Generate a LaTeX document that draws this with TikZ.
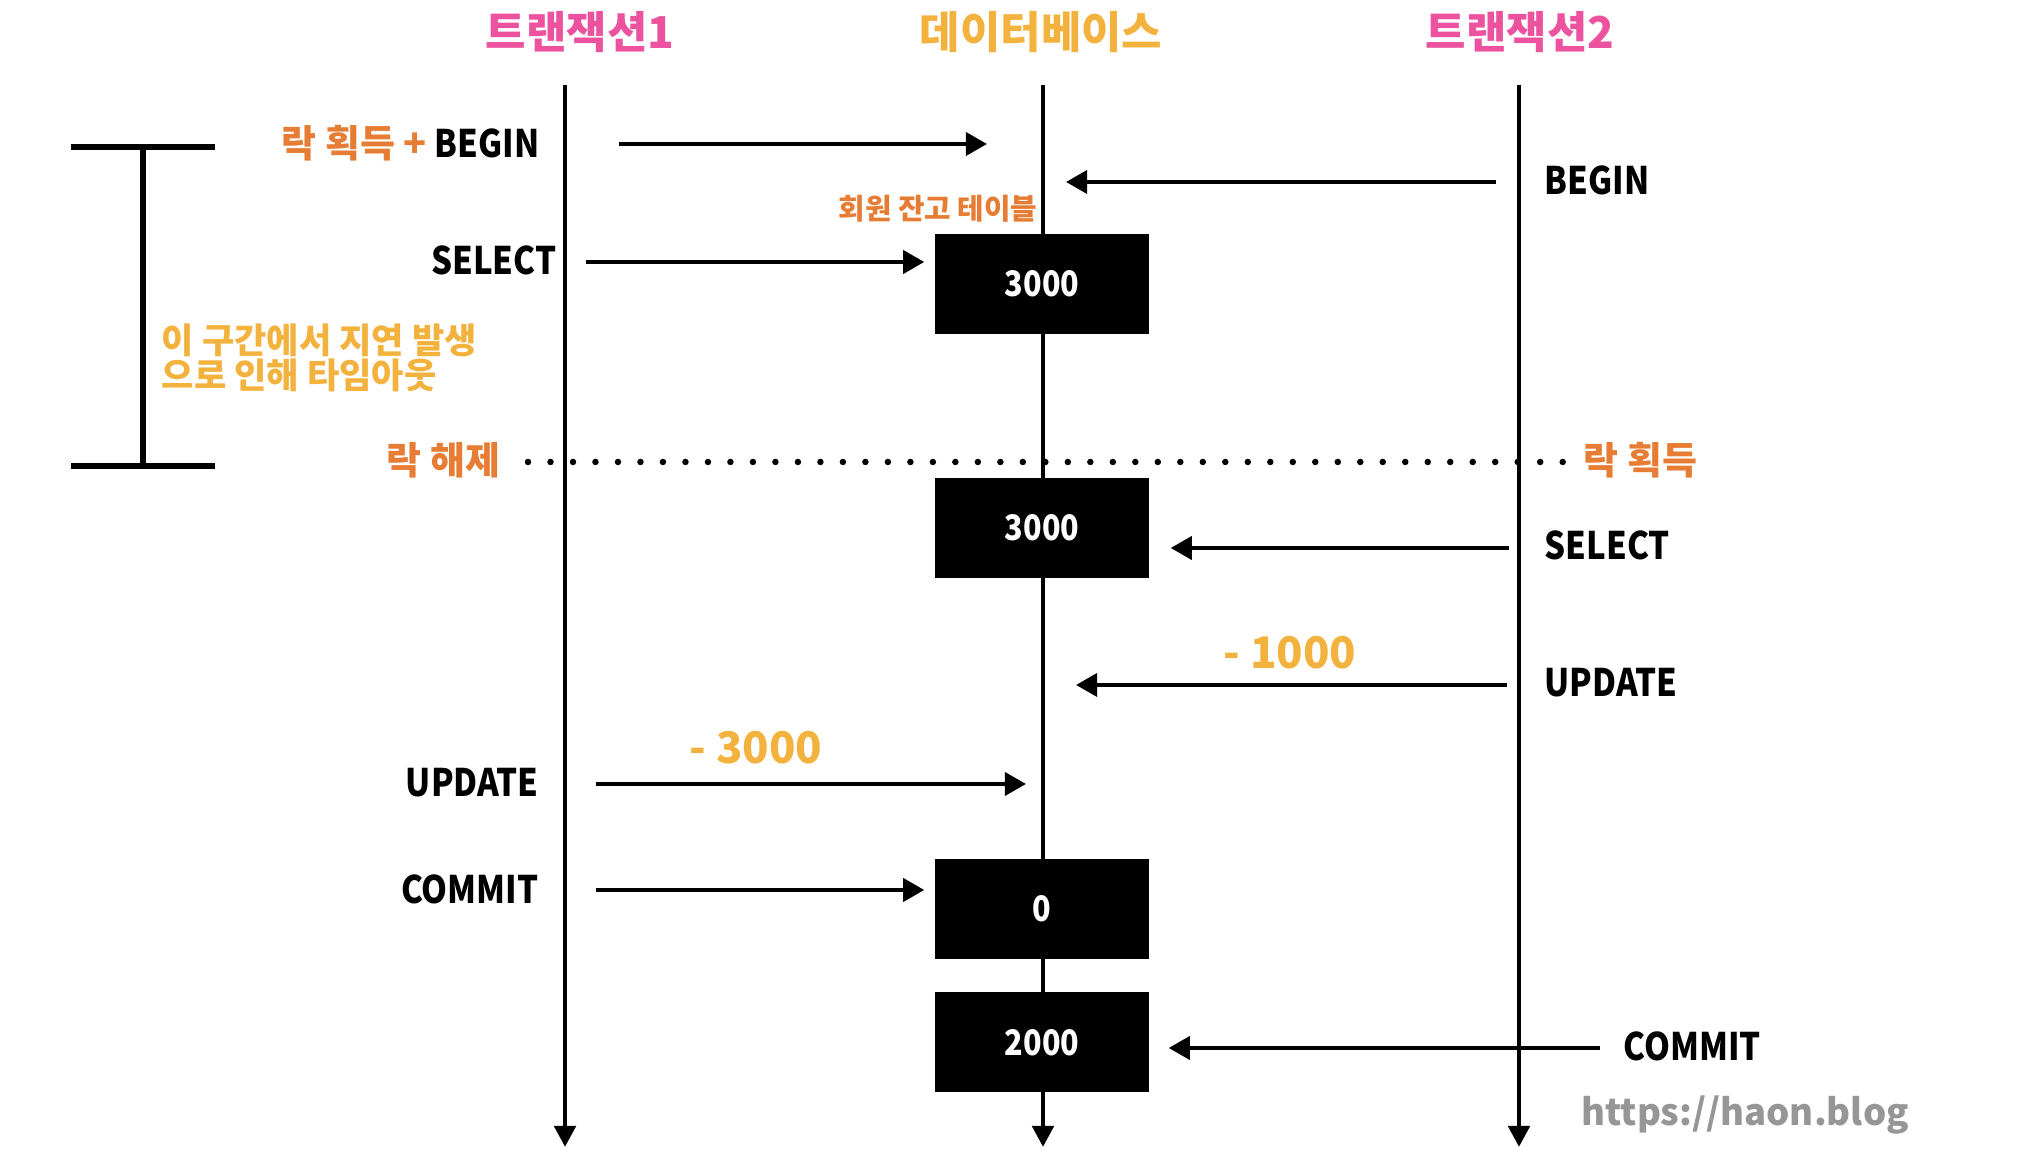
\documentclass[tikz,border=0pt]{standalone}
\usepackage{fontspec}
\setmainfont{Noto Sans CJK KR}[FakeStretch=0.87]
\newfontfamily\kr{Noto Sans CJK KR}
\usetikzlibrary{arrows.meta,positioning,calc}
\definecolor{trpink}{RGB}{236,82,158}
\definecolor{dbyellow}{RGB}{243,178,62}
\definecolor{lockorange}{RGB}{231,125,52}
\definecolor{urlgray}{RGB}{150,150,150}
\tikzset{
  lbl/.style={font=\fontsize{10.8}{12}\selectfont\bfseries, inner sep=0pt},
  ttl/.style={font=\kr\fontsize{12.5}{14}\selectfont\bfseries, inner sep=0pt},
  note/.style={font=\kr\fontsize{12.4}{13}\selectfont\bfseries, inner sep=0pt, text=dbyellow},
  valbox/.style={fill=black, minimum width=2.14cm, minimum height=1cm, inner sep=0pt, text=white, font=\fontsize{10}{11}\selectfont\bfseries},
  msg/.style={line width=1.2pt, -{Triangle[length=6pt,width=6.5pt]}},
  life/.style={line width=1.4pt, -{Triangle[length=6pt,width=6pt]}},
  bar/.style={line width=1.9pt},
}

\begin{document}
\begin{tikzpicture}
			%%%%% START %%%%%
			\useasboundingbox (0,0) rectangle (20.26,11.5);
			
			\node[ttl, text=trpink] (t1) at (5.80,11.18) {트랜잭션1};
			\node[ttl, text=dbyellow] (db) at (10.41,11.18) {데이터베이스};
			\node[ttl, text=trpink] (t2) at (15.20,11.18) {트랜잭션2};
			
			\coordinate (t1top) at (5.65,10.65);
			\coordinate (t1bot) at (5.65,0.03);
			\coordinate (dbtop) at (10.43,10.65);
			\coordinate (dbbot) at (10.43,0.03);
			\coordinate (t2top) at (15.19,10.65);
			\coordinate (t2bot) at (15.19,0.03);
			\draw[life] (t1top) -- (t1bot);
			\draw[life] (dbtop) -- (dbbot);
			\draw[life] (t2top) -- (t2bot);
			
			\node[valbox] (v1) at (10.42,8.66) {3000};
			\node[valbox] (v2) at (10.42,6.22) {3000};
			\node[valbox] (v3) at (10.42,2.41) {0};
			\node[valbox] (v4) at (10.42,1.075) {2000};
			\node[font=\kr\fontsize{8.2}{10}\selectfont\bfseries, text=lockorange, inner sep=0pt] (tbl) at (9.38,9.41) {회원 잔고 테이블};
			
			\node[lbl, anchor=east] (begin1) at (5.40,10.07) {\textcolor{lockorange}{\kr 락 획득 +} BEGIN};
			\node[lbl, anchor=east] (sel1) at (5.57,8.90) {SELECT};
			\node[lbl, anchor=east] (upd1) at (5.39,3.67) {UPDATE};
			\node[lbl, anchor=east] (com1) at (5.39,2.61) {COMMIT};
			\node[lbl, anchor=west] (begin2) at (15.44,9.70) {BEGIN};
			\node[lbl, anchor=west] (sel2) at (15.44,6.05) {SELECT};
			\node[lbl, anchor=west] (upd2) at (15.44,4.67) {UPDATE};
			\node[lbl, anchor=west] (com2) at (16.23,1.04) {COMMIT};
			
			\coordinate (b1end) at (9.87,10.06);
			\coordinate (b2end) at (10.66,9.68);
			\coordinate (u1end) at (10.26,3.66);
			\coordinate (u2end) at (10.76,4.65);
			\draw[msg] (b1end -| {$(begin1.east)+(0.79,0)$}) -- (b1end);
			\draw[msg] (b2end -| {$(begin2.west)+(-0.48,0)$}) -- (b2end);
			\draw[msg] ($(sel1.east)+(0.29,-0.02)$) -- ($(v1.west |- sel1.east)+(-0.1,-0.02)$);
			\draw[msg] ($(sel2.west)+(-0.35,-0.03)$) -- ($(v2.east |- sel2.west)+(0.21,-0.03)$);
			\draw[msg] (u2end -| {$(upd2.west)+(-0.37,0)$}) -- (u2end);
			\draw[msg] (u1end -| {$(upd1.east)+(0.57,0)$}) -- (u1end);
			\draw[msg] ($(com1.east)+(0.57,-0.01)$) -- ($(v3.west |- com1.east)+(-0.1,-0.01)$);
			\draw[msg] ($(com2.west)+(-0.23,-0.02)$) -- ($(v4.east |- com2.west)+(0.19,-0.02)$);
			
			\node[note] (minus3) at (7.56,4.02) {- 3000};
			\node[note] (minus1) at (12.90,4.97) {- 1000};
			
			\draw[bar] (0.71,10.03) -- (2.15,10.03);
			\draw[bar] (0.71,6.84) -- (2.15,6.84);
			\draw[bar] (1.43,10.03) -- (1.43,6.84);
			\node[font=\kr\fontsize{10}{9.9}\selectfont\bfseries, text=dbyellow, inner sep=0pt, align=left, anchor=west] (delay) at (1.61,7.925) {이 구간에서 지연 발생\\으로 인해 타임아웃};
			
			\node[lbl, font=\kr\fontsize{10.8}{12}\selectfont\bfseries, text=lockorange, anchor=east] (unlock) at (5.01,6.90) {락 해제};
			\node[lbl, font=\kr\fontsize{10.8}{12}\selectfont\bfseries, text=lockorange, anchor=west] (lock) at (15.83,6.90) {락 획득};
			\draw[line width=1.85pt, line cap=round, dash pattern=on 0pt off 6.4pt] ($(unlock.east)+(0.27,-0.02)$) -- ($(lock.west)+(-0.2,-0.02)$);
			
			\node[font=\kr\fontsize{10.4}{12}\selectfont\bfseries, text=urlgray, inner sep=0pt] (url) at (17.45,0.35) {https://haon.blog};
			%%%%% END %%%%%
\end{tikzpicture}
\end{document}
